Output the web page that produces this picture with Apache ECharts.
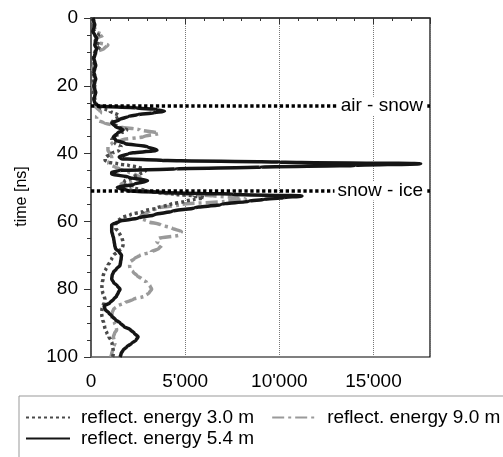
<!DOCTYPE html>
<html><head><meta charset="utf-8">
<script src="https://cdn.jsdelivr.net/npm/echarts@6/dist/echarts.min.js"></script>
<style>html,body{margin:0;padding:0;background:#fff}#c{width:503px;height:457px}</style>
</head><body><div id="c"></div><script>
// time axis samples [ns]
const timeNs = [0,1,2,3,4,5,6,7,8,9,10,11,12,13,14,15,16,17,18,19,20,21,22,23,24,25,
  26,26.5,27,27.5,28,28.5,29,
  30,31,32,33,34,35,36,37,38,39,40,41,
  41.5,42,42.5,43,43.5,44,44.5,45,45.5,46,
  47,48,49,50,51,
  51.5,52,52.5,53,53.5,54,
  55,56,57,58,59,60,61,62,63,64,65,66,67,68,69,70,71,72,73,74,75,76,77,78,79,80,
  81,82,83,84,85,86,87,88,89,90,91,92,93,94,95,96,97,98,99,100];
// reflected energy, antenna height 3.0 m
const energy30 = [50,100,150,200,150,400,300,200,500,400,200,150,100,150,200,150,100,150,100,150,200,150,100,150,200,250,
  300,500,800,1000,1200,1400,1500,
  1200,1100,1400,1900,1600,1200,1100,1300,1600,1500,1100,800,
  750,750,900,1400,2000,2500,2800,2900,2800,2600,
  2200,1800,1700,2200,3000,
  3500,4500,5500,6000,5500,5000,
  4200,3500,2800,2100,1600,1400,1300,1300,1450,1550,1650,1700,1700,1650,1400,1200,1100,1000,900,800,700,650,640,600,580,580,
  620,700,740,700,620,580,560,580,620,680,720,760,850,950,1050,1120,1150,1180,1180,1150];
// reflected energy, antenna height 5.4 m
const energy54 = [100,150,200,150,100,200,300,250,200,300,250,200,150,200,250,200,150,200,250,200,150,200,250,200,150,200,
  400,2400,3500,3900,3300,2500,2000,
  1500,1100,1300,1700,1400,1200,1300,1800,3000,3500,2000,1500,
  1600,3800,10000,17500,14000,9000,4500,1500,1100,1100,
  2000,3000,2300,1400,2000,
  4000,7500,11200,10200,9200,8400,
  6900,5500,4300,3400,2500,1500,1100,1100,1100,1150,1200,1230,1260,1300,1500,1620,1600,1570,1540,1350,1190,1120,1100,1200,1400,1540,
  1450,1360,1200,1000,700,750,950,1120,1300,1550,1750,2100,2300,2500,2400,2150,1900,1700,1600,1540];
// reflected energy, antenna height 9.0 m
const energy90 = [100,100,150,200,250,650,300,200,900,700,300,200,150,200,150,100,100,150,200,150,100,150,100,150,200,200,
  200,300,400,500,500,400,300,
  300,700,1500,2600,3600,2800,1600,1100,900,900,1000,1100,
  1100,1000,950,950,1100,1300,1500,1700,2000,2300,
  2600,2200,1600,1600,2300,
  3500,5000,6500,7800,8200,7200,
  4800,3600,3100,2700,2600,3000,3700,4300,4800,4700,3600,3500,3750,3600,3200,2600,2300,2070,2050,2070,2250,2450,2700,2950,3130,3220,
  3100,2870,2250,1800,1400,1190,1120,1100,1150,1250,1330,1360,1250,1190,1220,1270,1200,1150,1100,1050];
const seriesNames = ['reflect. energy 3.0 m', 'reflect. energy 5.4 m', 'reflect. energy 9.0 m'];
const interfaceNames = ['air - snow', 'snow - ice'];
const interfaceTimes = [26, 51];
const yAxisTitle = 'time [ns]';

const FONT = "'Liberation Sans', Arial, sans-serif";
const pairs = arr => arr.map((v, i) => [v, timeNs[i]]);
const fmtX = v => v >= 1000 ? Math.floor(v / 1000) + "'" + String(v % 1000).padStart(3, '0') : String(v);

const chart = echarts.init(document.getElementById('c'), null, {renderer: 'canvas'});
const lineBase = {type: 'line', showSymbol: false, symbol: 'none', smooth: 0.3, smoothMonotone: 'y', animation: false};
const legendText = {fontSize: 19, color: '#000', fontFamily: FONT, padding: [0, 0, 0, 6]};
chart.setOption({
  animation: false,
  textStyle: {fontFamily: FONT},
  grid: {left: 91, top: 18, right: 73, bottom: 100, show: true, borderColor: '#000', borderWidth: 1.2, backgroundColor: 'transparent'},
  xAxis: {
    type: 'value', min: 0, max: 18000, interval: 5000,
    axisLine: {show: true, lineStyle: {color: '#333', width: 1.5}},
    axisTick: {show: true, inside: false, length: 6, lineStyle: {color: '#333'}},
    minorTick: {show: true, splitNumber: 5, length: 3, lineStyle: {color: '#333'}},
    splitLine: {show: true, lineStyle: {color: '#777', type: [1, 1], width: 1}},
    axisLabel: {color: '#000', fontSize: 19, fontFamily: FONT, margin: 15, formatter: fmtX, showMaxLabel: false}
  },
  yAxis: {
    type: 'value', inverse: true, min: 0, max: 100, interval: 20,
    name: yAxisTitle, nameLocation: 'middle', nameRotate: 90, nameGap: 61,
    nameTextStyle: {color: '#000', fontSize: 16, fontFamily: FONT, padding: [0, 18, 0, 0]},
    axisLine: {show: true, lineStyle: {color: '#555', width: 1.5}},
    axisTick: {show: true, inside: false, length: 7, lineStyle: {color: '#333'}},
    minorTick: {show: true, splitNumber: 4, length: 4, lineStyle: {color: '#333'}},
    splitLine: {show: false},
    axisLabel: {color: '#000', fontSize: 19, fontFamily: FONT, margin: 13}
  },
  legend: [{
    data: [seriesNames[0], seriesNames[2]],
    left: 19, top: 396, width: 495, orient: 'horizontal',
    itemWidth: 44, itemHeight: 12, itemGap: 17,
    padding: [12, 30, 60, 6],
    borderColor: '#999', borderWidth: 1,
    itemStyle: {opacity: 0},
    textStyle: legendText
  }, {
    data: [seriesNames[1]],
    left: 19, top: 429, orient: 'horizontal',
    itemWidth: 44, itemHeight: 12,
    padding: [0, 6, 0, 6],
    itemStyle: {opacity: 0},
    textStyle: legendText
  }],
  series: [
    Object.assign({}, lineBase, {
      name: seriesNames[2], data: pairs(energy90), z: 2,
      lineStyle: {color: '#9a9a9a', width: 3.5, type: [12, 4, 3, 4]}, itemStyle: {color: '#9a9a9a'}
    }),
    Object.assign({}, lineBase, {
      name: seriesNames[0], data: pairs(energy30), z: 3,
      lineStyle: {color: '#4a4a4a', width: 3.5, type: [3, 3]}, itemStyle: {color: '#4a4a4a'}
    }),
    Object.assign({}, lineBase, {
      name: seriesNames[1], data: pairs(energy54), z: 4,
      lineStyle: {color: '#151515', width: 3.5}, itemStyle: {color: '#151515'},
      markLine: {
        silent: true, symbol: ['none', 'none'], animation: false,
        lineStyle: {color: '#000', width: 3.5, type: [3.3, 2.6]},
        label: {show: true, position: 'insideEnd', formatter: p => p.name, color: '#000', fontSize: 19, fontFamily: FONT,
          backgroundColor: '#fff', padding: [0, 2, 0, 3], distance: 5},
        data: interfaceTimes.map((t, i) => ({name: interfaceNames[i], yAxis: t}))
      }
    })
  ]
});
</script></body></html>
